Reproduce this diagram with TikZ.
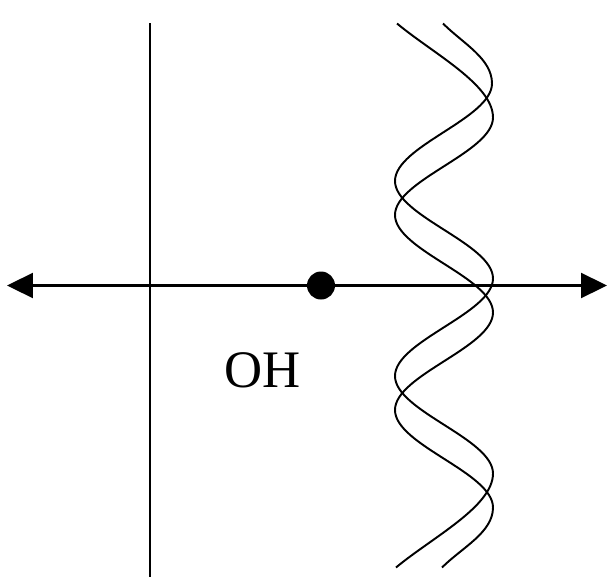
\documentclass[tikz,border=0pt]{standalone}
\usepackage{fontspec}
\setmainfont{Liberation Serif}
\usetikzlibrary{arrows.meta}
\tikzset{axisline/.style={line width=1.3pt,{Triangle[length=0.52cm,width=0.5cm]}-{Triangle[length=0.52cm,width=0.5cm]}},
 vline/.style={line width=1.3pt},
 wave/.style={line width=1.1pt},
 dot/.style={circle,fill=black,inner sep=0pt,minimum size=0.56cm},
 ohlabel/.style={font=\fontsize{30}{30}\selectfont,inner sep=0pt}}
\begin{document}
\begin{tikzpicture}
\useasboundingbox (-3.0,-5.83) rectangle (9.18,5.71);

\coordinate (west) at (-2.86,0);
\coordinate (east) at (9.14,0);
\coordinate (top) at (0,5.24);
\coordinate (bottom) at (0,-5.83);

\draw[axisline] (west)--(east);
\draw[vline] (top)--(bottom);

\node[dot] (point) at (3.42,0) {};
\node[ohlabel,anchor=base] (oh) at (2.25,-2.04) {OH};

\draw[wave] (4.94,5.24) .. controls +(0.72,-0.6) and +(0,0.66) .. (6.86,3.36)
 .. controls +(0,-0.7) and +(0,0.7) .. (4.9,1.41)
 .. controls +(0,-0.7) and +(0,0.7) .. (6.86,-0.54)
 .. controls +(0,-0.7) and +(0,0.7) .. (4.9,-2.49)
 .. controls +(0,-0.7) and +(0,0.7) .. (6.86,-4.44)
 .. controls +(0,-0.5) and +(0.4,0.4) .. (5.84,-5.64);

\draw[wave] (5.86,5.24) .. controls +(0.4,-0.4) and +(0,0.5) .. (6.84,4.04)
 .. controls +(0,-0.7) and +(0,0.7) .. (4.9,2.09)
 .. controls +(0,-0.7) and +(0,0.7) .. (6.86,0.14)
 .. controls +(0,-0.7) and +(0,0.7) .. (4.9,-1.81)
 .. controls +(0,-0.7) and +(0,0.7) .. (6.86,-3.76)
 .. controls +(0,-0.66) and +(0.72,0.6) .. (4.92,-5.64);
\end{tikzpicture}
\end{document}
